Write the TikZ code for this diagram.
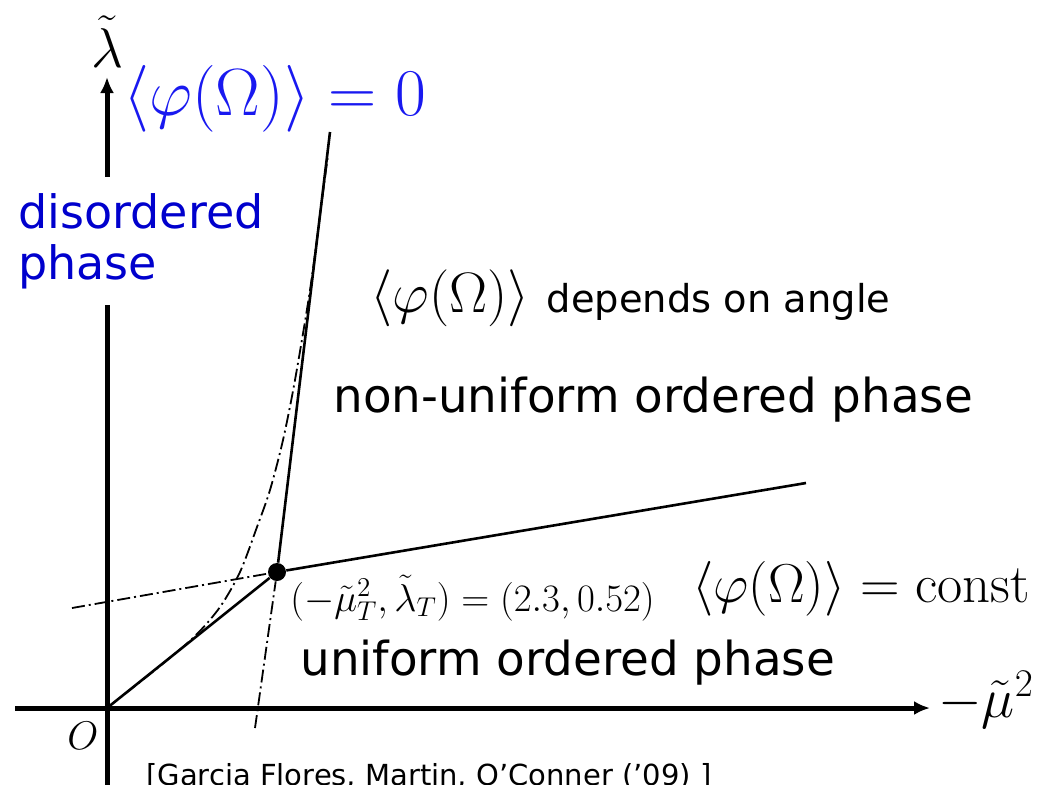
\RequirePackage{fix-cm}
\documentclass[tikz,border=0pt]{standalone}
\usepackage{fontspec}
\setsansfont{DejaVu Sans}
\usetikzlibrary{arrows.meta}
\definecolor{phaseblue}{RGB}{0,0,205}
\definecolor{eqblue}{RGB}{25,25,240}

\begin{document}
\begin{tikzpicture}[x=0.5pt, y=-0.5pt,
		axis/.style={line width=2.5pt, -{Latex[length=8pt,width=7pt]}},
		boundary/.style={line width=1.3pt},
		guide/.style={line width=0.9pt, dash pattern=on 6.5pt off 2pt on 1pt off 2pt},
		phase/.style={font=\sffamily\fontsize{23.4}{26}\selectfont, inner sep=0pt}]
		\useasboundingbox (0,0) rectangle (1049,784);
		
		% 坐标轴
		\coordinate (O) at (107,708);
		\coordinate (xstart) at (15,708);
		\coordinate (xend) at (930,708);
		\coordinate (ystart) at (107,790);
		\coordinate (yend) at (107,77);
		\draw[axis] (xstart) -- (xend);
		\draw[axis] (ystart) -- (yend);
		\node[anchor=base west, inner sep=0pt] (mu) at (938,717) {\fontsize{28}{34}\selectfont$-\tilde{\mu}^2$};
		\node[anchor=base, inner sep=0pt] (lam) at (107,67) {\fontsize{28}{34}\selectfont$\tilde{\lambda}$};
		\node[anchor=base west, inner sep=0pt] (Olab) at (67,749) {\fontsize{20}{24}\selectfont$O$};
		
		% 无序相
		\node[phase, font=\sffamily\fontsize{23}{25.5}\selectfont, text=phaseblue, fill=white, align=left, anchor=north west, inner ysep=8pt] (dis) at (18,177) {disordered\\phase};
		\node[anchor=west, inner sep=0pt, text=eqblue] (zero) at (123,99) {\fontsize{33.4}{40}\selectfont$\langle\varphi(\Omega)\rangle=0$};
		
		% 相边界
		\node[circle, fill, inner sep=0pt, minimum size=9pt] (T) at (277,572) {};
		\coordinate (up) at (330,132);
		\coordinate (right) at (806,483);
		\draw[boundary] (O) -- (T) -- (up);
		\draw[boundary] (T) -- (right);
		
		% 点划线
		\coordinate (gl) at (72,608);
		\coordinate (gb) at (255,728);
		\draw[guide] (gl) -- (T);
		\draw[guide] (gb) -- (T);
		\draw[guide] plot[smooth] coordinates {(107,708) (160,666) (195,636) (220,607) (240,572) (257,527) (270,490) (283,440) (295,380) (310,290) (322,200) (328,155)};
		
		% 标注
		\node[anchor=base west, inner sep=0pt] (Tlab) at (290,611) {\fontsize{19.4}{23}\selectfont$(-\tilde{\mu}_T^2,\tilde{\lambda}_T)=(2.3,0.52)$};
		\node[anchor=base west, inner sep=0pt] (angle) at (370,312) {\fontsize{28.5}{34}\selectfont$\langle\varphi(\Omega)\rangle$ \sffamily\fontsize{19.2}{23}\selectfont depends on angle};
		\node[phase, anchor=base west] (nonuni) at (333,412) {non-uniform ordered phase};
		\node[anchor=base west, inner sep=0pt] (const) at (692,602) {\fontsize{27.4}{33}\selectfont$\langle\varphi(\Omega)\rangle=\mathrm{const}$};
		\node[phase, anchor=base west] (uni) at (300,675) {uniform ordered phase};
		\node[anchor=base west, inner sep=0pt, font=\sffamily\fontsize{14.5}{18}\selectfont] (cite) at (146,785) {[Garcia Flores, Martin, O’Conner (’09) ]};
	\end{tikzpicture}
\end{document}
